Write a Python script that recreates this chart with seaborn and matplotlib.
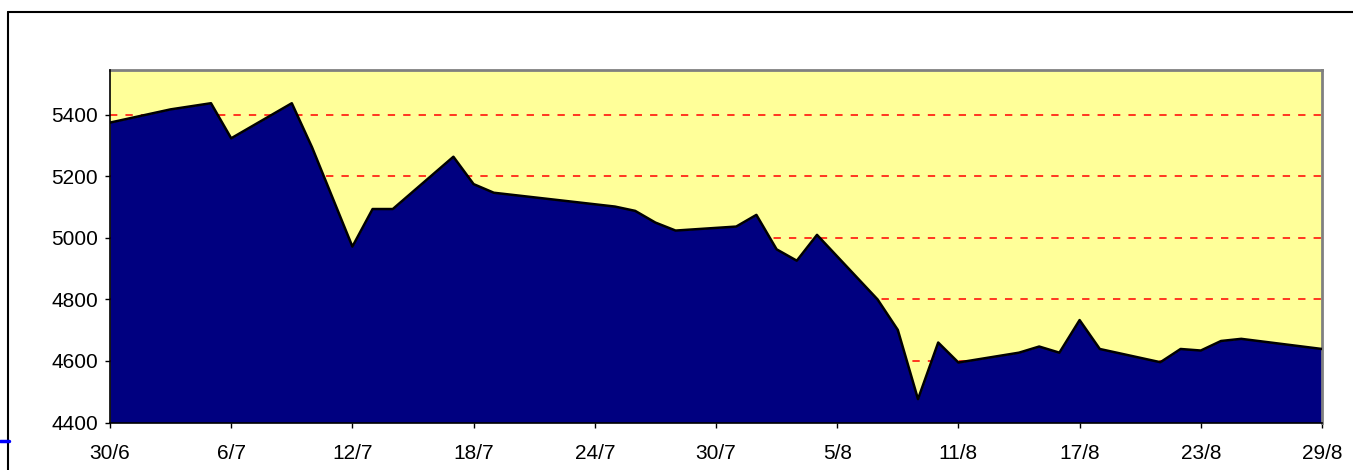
import matplotlib
matplotlib.use("Agg")
import matplotlib.pyplot as plt
from matplotlib.lines import Line2D
import seaborn as sns
import pandas as pd

# daily index values (dd/mm)
dates = ["30/6", "3/7", "5/7", "6/7", "9/7", "10/7", "12/7", "13/7", "14/7",
         "17/7", "18/7", "19/7", "25/7", "26/7", "27/7", "28/7", "31/7",
         "1/8", "2/8", "3/8", "4/8", "7/8", "8/8", "9/8", "10/8", "11/8",
         "14/8", "15/8", "16/8", "17/8", "18/8", "21/8", "22/8", "23/8",
         "24/8", "25/8", "29/8"]
values = [5375, 5418, 5438, 5324, 5438, 5295, 4972, 5094, 5094,
          5264, 5175, 5147, 5102, 5088, 5050, 5024, 5037,
          5075, 4963, 4926, 5010, 4800, 4701, 4476, 4660, 4595,
          4627, 4647, 4627, 4733, 4639, 4596, 4639, 4634,
          4665, 4672, 4639]
tick_labels = ["30/6", "6/7", "12/7", "18/7", "24/7", "30/7",
               "5/8", "11/8", "17/8", "23/8", "29/8"]
y_ticks = [4400, 4600, 4800, 5000, 5200, 5400]

year = "2006"
df = pd.DataFrame({
    "date": pd.to_datetime([d + "/" + year for d in dates], format="%d/%m/%Y"),
    "value": values,
})
tick_dates = pd.to_datetime([t + "/" + year for t in tick_labels], format="%d/%m/%Y")

sns.set_theme(style="white")
plt.rcParams["font.family"] = ["Liberation Sans", "DejaVu Sans"]

fig = plt.figure(figsize=(13.53, 4.70), dpi=100)
ax = fig.add_axes([110 / 1353, 47.5 / 470, 1212 / 1353, 352.5 / 470])
ax.set_facecolor("#FFFF99")

ax.fill_between(df["date"], df["value"], 4400, color="#000080", linewidth=0, zorder=2)
sns.lineplot(data=df, x="date", y="value", ax=ax, color="black", linewidth=1.8, zorder=3)

ax.set_ylim(4400, 5546)
ax.set_xlim(tick_dates[0], tick_dates[-1])
ax.set_yticks(y_ticks)
ax.set_xticks(tick_dates)
ax.set_xticklabels(tick_labels)
ax.set_xlabel("")
ax.set_ylabel("")

for yv in y_ticks[1:]:
    ax.axhline(yv, color="#FF0000", linestyle=(0, (4.8, 5.3)), linewidth=1.1, zorder=1)

ax.tick_params(axis="both", which="major", direction="out", length=3.6, width=1,
               color="black", labelsize=15, labelcolor="black", left=True, bottom=True)
ax.tick_params(axis="y", pad=5)
ax.tick_params(axis="x", pad=12)

for side in ["left", "bottom"]:
    ax.spines[side].set_color("black")
    ax.spines[side].set_linewidth(1.2)
    ax.spines[side].set_zorder(4)
for side in ["top", "right"]:
    ax.spines[side].set_color("#808080")
    ax.spines[side].set_linewidth(2)

# outer chart frame (cut off at right and bottom) and a stray blue stroke
fig.add_artist(Line2D([8 / 1353, 8 / 1353], [0, 1 - 12 / 470], color="black", linewidth=1.5))
fig.add_artist(Line2D([8 / 1353, 1], [1 - 12 / 470, 1 - 12 / 470], color="black", linewidth=1.5))
fig.add_artist(Line2D([0, 9 / 1353], [1 - 441 / 470, 1 - 441 / 470], color="#0000FF", linewidth=2.5))

fig.savefig("out.png", dpi=100)
